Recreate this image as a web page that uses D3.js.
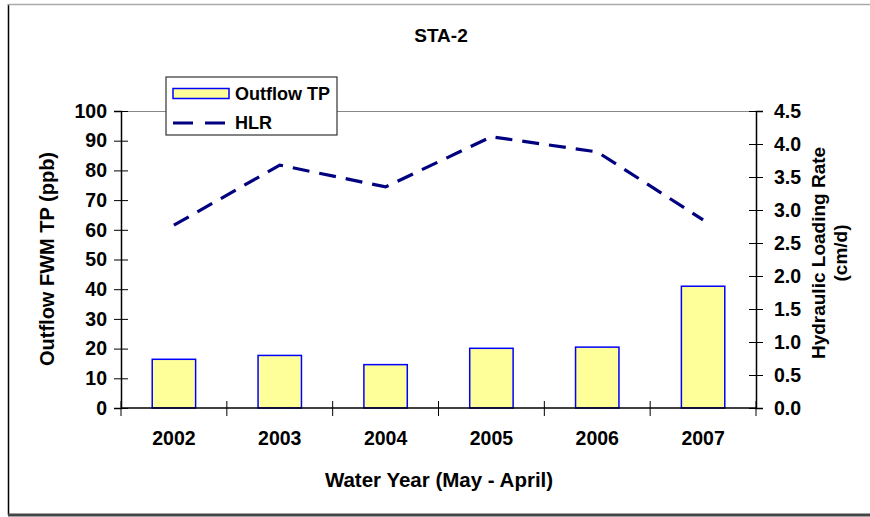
<!DOCTYPE html>
<html>
<head>
<meta charset="utf-8">
<script src="https://cdn.jsdelivr.net/npm/d3@7"></script>
<style>
  body { margin: 0; background: #fff; }
  text { font-family: "Liberation Sans", Arial, sans-serif; font-weight: bold; fill: #000; }
</style>
</head>
<body>
<div id="grafico"></div>
<script>
// dados
const anos = ["2002", "2003", "2004", "2005", "2006", "2007"];
const tp_saida = [16.4, 17.7, 14.6, 20.1, 20.5, 41.0];   // ppb
const hlr = [2.77, 3.68, 3.35, 4.11, 3.88, 2.85];         // cm/d
const ticks_esq = d3.range(0, 101, 10);
const ticks_dir = d3.range(0, 4.51, 0.5);

const largura = 870, altura = 517;
const m = {esq: 121, dir: 756, topo: 111, base: 408};

const svg = d3.select("#grafico").append("svg")
    .attr("width", largura)
    .attr("height", altura);

// moldura externa
svg.append("line").attr("x1", 8.5).attr("x2", 8.5).attr("y1", 4).attr("y2", 515)
    .attr("stroke", "#000").attr("stroke-width", 1.5);
svg.append("line").attr("x1", 8).attr("x2", 870).attr("y1", 4.5).attr("y2", 4.5)
    .attr("stroke", "#aaa").attr("stroke-width", 1.5);
svg.append("line").attr("x1", 8).attr("x2", 870).attr("y1", 515).attr("y2", 515)
    .attr("stroke", "#444").attr("stroke-width", 3);

// escalas
const x = d3.scaleBand().domain(anos).range([m.esq, m.dir]);
const y = d3.scaleLinear().domain([0, 100]).range([m.base, m.topo]);
const y2 = d3.scaleLinear().domain([0, 4.5]).range([m.base, m.topo]);

// borda superior da área do gráfico
svg.append("line")
    .attr("x1", m.esq).attr("x2", m.dir)
    .attr("y1", m.topo + 0.5).attr("y2", m.topo + 0.5)
    .attr("stroke", "#888").attr("stroke-width", 1);

// barras
const larg_barra = x.bandwidth() * 0.41;
svg.append("g").selectAll("rect")
  .data(tp_saida)
  .join("rect")
    .attr("x", (d, i) => x(anos[i]) + x.bandwidth() / 2 - larg_barra / 2)
    .attr("y", d => y(d))
    .attr("width", larg_barra)
    .attr("height", d => y(0) - y(d))
    .attr("fill", "#FFFF99")
    .attr("stroke", "#0000FF")
    .attr("stroke-width", 1.5);

// linha HLR
const linha = d3.line()
    .x((d, i) => x(anos[i]) + x.bandwidth() / 2)
    .y(d => y2(d));
svg.append("path")
    .datum(hlr)
    .attr("d", linha)
    .attr("fill", "none")
    .attr("stroke", "#000080")
    .attr("stroke-width", 3.2)
    .attr("stroke-dasharray", "17,10");

// eixo esquerdo
const eixoEsq = svg.append("g")
    .attr("transform", `translate(${m.esq},0)`)
    .call(d3.axisLeft(y).tickValues(ticks_esq).tickSize(7));
eixoEsq.selectAll(".tick line").attr("x2", 7).attr("x1", -7);
eixoEsq.selectAll(".tick text").attr("x", -14);

// eixo direito
const eixoDir = svg.append("g")
    .attr("transform", `translate(${m.dir},0)`)
    .call(d3.axisRight(y2).tickValues(ticks_dir).tickFormat(d3.format(".1f")).tickSize(7));
eixoDir.selectAll(".tick line").attr("x1", -7).attr("x2", 7);
eixoDir.selectAll(".tick text").attr("x", 18);

// eixo x: marcas nos limites das categorias
const eixoX = svg.append("g")
    .attr("transform", `translate(0,${m.base})`)
    .call(d3.axisBottom(x).tickSize(0).tickPadding(31));
eixoX.select(".domain").attr("d", `M${m.esq},0H${m.dir}`);
eixoX.selectAll(".tick text").attr("dy", "0.3em");
eixoX.append("g").selectAll("line")
  .data(anos.concat(["fim"]))
  .join("line")
    .attr("x1", (d, i) => i < anos.length ? x(d) : m.dir)
    .attr("x2", (d, i) => i < anos.length ? x(d) : m.dir)
    .attr("y1", -7).attr("y2", 8)
    .attr("stroke", "#000");

svg.selectAll(".domain").attr("stroke", "#000").attr("stroke-width", 1.5);
svg.selectAll(".tick text")
    .attr("font-size", 19.5)
    .attr("font-family", "'Liberation Sans', Arial, sans-serif")
    .attr("font-weight", "bold")
    .attr("fill", "#000");

// títulos
svg.append("text")
    .attr("x", 441).attr("y", 42)
    .attr("text-anchor", "middle")
    .attr("font-size", 19)
    .text("STA-2");

svg.append("text")
    .attr("x", 439).attr("y", 487)
    .attr("text-anchor", "middle")
    .attr("font-size", 20.5)
    .text("Water Year (May - April)");

svg.append("text")
    .attr("transform", "translate(54,259) rotate(-90)")
    .attr("text-anchor", "middle")
    .attr("font-size", 20)
    .text("Outflow FWM TP (ppb)");

const tituloDir = svg.append("text")
    .attr("transform", "translate(818,253) rotate(-90)")
    .attr("text-anchor", "middle")
    .attr("font-size", 19);
tituloDir.append("tspan").attr("x", 0).attr("dy", "0.35em").text("Hydraulic Loading Rate");
tituloDir.append("tspan").attr("x", 0).attr("dy", "1.15em").text("(cm/d)");

// legenda
const leg = svg.append("g").attr("transform", "translate(166,77)");
leg.append("rect")
    .attr("width", 171).attr("height", 58)
    .attr("fill", "#fff").attr("stroke", "#333").attr("stroke-width", 1.2);
leg.append("rect")
    .attr("x", 7).attr("y", 11.5).attr("width", 56).attr("height", 10)
    .attr("fill", "#FFFF99").attr("stroke", "#0000FF").attr("stroke-width", 1.5);
leg.append("text").attr("x", 69).attr("y", 23).attr("font-size", 18).text("Outflow TP");
leg.append("line")
    .attr("x1", 7).attr("x2", 63).attr("y1", 46).attr("y2", 46)
    .attr("stroke", "#000080").attr("stroke-width", 3.2)
    .attr("stroke-dasharray", "20,12");
leg.append("text").attr("x", 69).attr("y", 52).attr("font-size", 18).text("HLR");
</script>
</body>
</html>
